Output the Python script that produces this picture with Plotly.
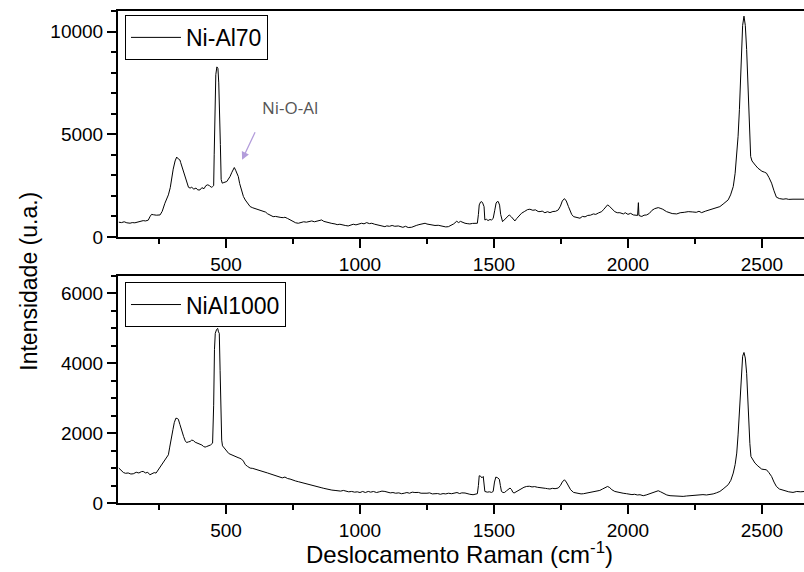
import plotly.graph_objects as go

# Ni-Al70 spectrum (Raman shift cm-1, intensity a.u.)
x_top = [100,110,120,130,142,150,160,170,180,191,200,210,216,222,230,240,254,262,272,280,285,292,297,303,310,316,322,328,331,338,347,355,360,366,372,380,388,395,403,410,418,425,432,438,445,450,454,456,459,462,466,470,473,476,479,482,486,492,498,503,509,515,522,527,531,536,541,546,551,558,565,572,580,590,600,610,620,630,639,648,655,665,676,685,695,705,714,720,730,740,750,760,770,780,790,800,810,820,830,840,850,857,865,875,885,895,907,915,925,935,945,956,965,975,985,995,1006,1015,1025,1035,1044,1055,1065,1075,1085,1093,1100,1110,1120,1130,1143,1150,1160,1170,1180,1193,1200,1210,1220,1230,1243,1250,1260,1270,1280,1292,1300,1310,1320,1330,1340,1350,1361,1368,1375,1385,1392,1400,1410,1420,1430,1438,1442,1445,1450,1454,1458,1463,1466,1472,1478,1485,1491,1497,1503,1508,1512,1516,1521,1525,1532,1540,1550,1557,1565,1572,1578,1585,1595,1603,1615,1625,1634,1645,1655,1665,1672,1680,1690,1700,1709,1720,1730,1740,1748,1755,1763,1770,1778,1785,1790,1797,1805,1812,1821,1830,1840,1850,1860,1871,1880,1890,1902,1910,1917,1924,1932,1940,1951,1960,1970,1983,1990,2000,2010,2020,2030,2036,2039,2041,2045,2052,2060,2070,2080,2090,2100,2113,2120,2130,2144,2155,2165,2182,2195,2210,2225,2240,2255,2265,2275,2290,2306,2320,2330,2343,2355,2365,2374,2383,2393,2400,2406,2411,2416,2420,2424,2428,2433,2438,2443,2447,2450,2454,2458,2463,2468,2475,2485,2493,2500,2510,2517,2526,2536,2545,2554,2565,2579,2590,2600,2616,2630,2645,2660]
y_top = [720,700,740,690,670,700,690,720,740,795,780,820,980,1100,1080,1060,1073,1250,1640,1850,2050,2400,2860,3300,3700,3890,3800,3750,3620,3300,2940,2600,2420,2380,2420,2330,2380,2290,2290,2400,2350,2500,2540,2500,2420,2450,2500,4000,6500,7900,8280,8200,7500,6400,4500,2800,2620,2650,2700,2700,2820,2940,3150,3300,3380,3250,3100,2940,2600,2250,1970,1800,1650,1480,1420,1380,1330,1270,1234,1210,1130,1080,990,1000,960,950,941,960,900,820,760,690,668,700,740,720,760,780,740,770,800,829,760,720,690,660,634,600,620,580,560,537,560,620,590,640,668,640,700,650,668,620,580,560,530,502,540,520,560,520,537,500,470,520,460,473,520,560,600,640,668,630,600,580,560,570,540,520,490,502,560,640,766,700,760,700,668,650,634,660,650,668,1100,1560,1700,1722,1650,1478,829,860,800,850,829,900,1300,1650,1720,1722,1550,1100,746,860,1020,1073,980,860,780,900,1060,1156,1250,1330,1351,1300,1320,1240,1234,1260,1180,1230,1185,1240,1250,1317,1500,1750,1868,1750,1478,1250,1100,990,960,920,912,1000,980,1050,1060,1122,1100,1170,1234,1350,1480,1561,1480,1370,1234,1180,1180,1122,1180,1100,1150,1073,1080,1050,1670,1050,1024,1000,1060,1073,1150,1300,1380,1429,1400,1350,1234,1170,1140,1122,1180,1200,1234,1220,1200,1250,1185,1260,1317,1380,1420,1478,1600,1700,1805,2050,2454,3100,3917,4900,6195,7900,9449,10300,10750,10300,9122,7600,6195,5000,3917,3700,3595,3500,3350,3268,3200,3150,3107,2900,2620,2250,1937,1870,1839,1860,1830,1839,1850,1830,1839]

# NiAl1000 spectrum
x_bot = [100,105,110,117,125,135,145,154,165,175,185,191,200,208,216,225,232,239,248,255,260,268,277,285,290,294,297,302,307,313,318,322,328,335,342,348,353,360,366,372,378,385,392,398,403,410,416,422,428,435,442,450,454,457,460,465,469,472,475,478,481,484,487,495,503,510,515,520,527,535,545,552,558,565,572,580,590,600,610,620,627,635,645,655,664,675,685,695,701,710,720,730,739,750,760,770,782,792,802,812,822,834,844,855,865,875,885,895,907,917,928,938,948,958,969,980,990,1000,1010,1020,1031,1040,1050,1062,1072,1082,1093,1103,1113,1123,1133,1145,1155,1165,1175,1185,1195,1205,1218,1228,1240,1250,1260,1270,1280,1290,1300,1310,1320,1330,1342,1352,1362,1372,1380,1392,1400,1410,1422,1430,1438,1442,1445,1450,1455,1460,1463,1466,1475,1483,1491,1497,1502,1507,1514,1520,1524,1528,1534,1540,1547,1554,1560,1566,1570,1575,1582,1590,1597,1605,1612,1622,1632,1642,1652,1662,1672,1682,1692,1700,1709,1718,1728,1740,1748,1755,1763,1770,1778,1786,1797,1807,1815,1825,1834,1845,1855,1865,1875,1884,1895,1905,1914,1924,1932,1940,1951,1960,1970,1982,1995,2005,2015,2025,2035,2045,2057,2068,2080,2090,2100,2113,2122,2132,2145,2157,2170,2182,2195,2206,2218,2230,2243,2256,2268,2280,2293,2306,2318,2330,2343,2355,2365,2374,2384,2393,2400,2406,2411,2416,2420,2424,2428,2433,2438,2443,2447,2450,2455,2459,2466,2474,2485,2492,2499,2508,2517,2526,2536,2545,2554,2565,2579,2590,2600,2616,2630,2645,2660]
y_bot = [1000,960,900,874,850,860,830,837,880,860,900,903,860,880,808,850,870,857,960,1020,1094,1180,1280,1380,1600,1800,1886,2100,2300,2428,2420,2400,2250,2046,1900,1780,1731,1750,1760,1800,1789,1740,1720,1700,1694,1660,1620,1600,1617,1640,1660,1714,2800,4400,4857,4971,5000,4900,4857,3800,2380,1800,1637,1550,1474,1420,1400,1380,1351,1320,1300,1280,1257,1200,1100,1050,1000,990,970,950,931,920,890,860,837,810,780,760,743,720,743,700,686,650,630,610,589,560,540,530,510,490,474,440,420,400,390,370,360,350,340,360,330,320,331,310,320,300,330,300,331,310,330,300,320,340,331,310,290,300,280,290,266,280,300,280,310,300,303,280,270,280,290,260,266,270,250,270,260,280,266,290,300,270,290,286,260,250,237,250,266,500,780,770,720,760,600,331,310,320,303,330,600,743,720,680,500,331,300,303,350,400,429,380,310,286,320,360,380,420,450,474,480,460,470,450,446,430,420,410,400,420,410,429,500,600,666,600,474,380,303,280,270,260,266,280,300,310,320,331,360,400,440,474,440,380,331,310,300,280,266,250,240,250,230,237,209,230,260,300,330,351,320,270,230,209,200,210,190,189,200,210,220,237,230,240,230,237,260,290,331,400,460,523,650,857,1100,1429,1950,2571,3300,3903,4200,4310,4150,3714,3000,2380,1700,1331,1230,1143,1060,1000,971,960,951,870,760,600,474,400,360,330,320,303,330,320,331]

x_ticks = [500, 1000, 1500, 2000, 2500]
y_ticks_top = [0, 5000, 10000]
y_ticks_bot = [0, 2000, 4000, 6000]
name_top = "Ni-Al70"
name_bot = "NiAl1000"

FONT = "Liberation Sans, Arial, sans-serif"

fig = go.Figure()
fig.add_trace(go.Scatter(x=x_top, y=y_top, mode="lines", name=name_top,
                         line=dict(color="black", width=1), xaxis="x", yaxis="y",
                         legend="legend"))
fig.add_trace(go.Scatter(x=x_bot, y=y_bot, mode="lines", name=name_bot,
                         line=dict(color="black", width=1), xaxis="x2", yaxis="y2",
                         legend="legend2"))

xrange = [97, 2657]
common_x = dict(range=xrange, tickvals=x_ticks, ticks="outside", ticklen=9, tickwidth=1.5,
                tickcolor="black", showline=True, linecolor="black", linewidth=2,
                mirror=True, showgrid=False, zeroline=False,
                tickfont=dict(family=FONT, size=19, color="black"),
                minor=dict(dtick=250, tick0=0, ticks="outside", ticklen=5, tickwidth=1.5,
                           tickcolor="black", showgrid=False))
common_y = dict(ticks="outside", ticklen=9, tickwidth=1.5, tickcolor="black",
                showline=True, linecolor="black", linewidth=2, mirror=False,
                showgrid=False, zeroline=False, tickformat="d",
                tickfont=dict(family=FONT, size=19, color="black"))

legend_style = dict(xanchor="left", yanchor="top", bordercolor="black", borderwidth=1,
                    bgcolor="white", font=dict(family=FONT, size=23, color="black"),
                    itemwidth=50, tracegroupgap=0)

fig.update_layout(
    width=804, height=572,
    margin=dict(l=118, r=0, t=11, b=69),
    plot_bgcolor="white", paper_bgcolor="white",
    xaxis=dict(domain=[0, 1], anchor="y", **common_x),
    yaxis=dict(domain=[0.5407, 1], anchor="x", range=[0, 11000],
               tickvals=y_ticks_top,
               minor=dict(dtick=1000, tick0=0, ticks="outside", ticklen=5, tickwidth=1.5,
                          tickcolor="black", showgrid=False),
               **common_y),
    xaxis2=dict(domain=[0, 1], anchor="y2", **common_x),
    yaxis2=dict(domain=[0, 0.4614], anchor="x2", range=[0, 6500],
                tickvals=y_ticks_bot,
                minor=dict(dtick=500, tick0=0, ticks="outside", ticklen=5, tickwidth=1.5,
                           tickcolor="black", showgrid=False),
                **common_y),
    legend=dict(x=0.0102, y=0.992, **legend_style),
    legend2=dict(x=0.0102, y=0.449, **legend_style),
    showlegend=True,
)

# Annotation arrow and label on top panel
fig.add_annotation(x=560, y=3756, xref="x", yref="y", text=" ", showarrow=True,
                   ax=16, ay=-34, axref="pixel", ayref="pixel",
                   arrowcolor="#b39ddb", arrowwidth=1.3, arrowhead=2, arrowsize=1.2)
fig.add_annotation(x=739, y=6290, xref="x", yref="y", text="Ni-O-Al", showarrow=False,
                   font=dict(family="Open Sans", size=17, color="#555555"))

# Axis titles
fig.add_annotation(x=0.4985, y=-0.1016, xref="paper", yref="paper",
                   text="Deslocamento Raman (cm<sup>-1</sup>)", showarrow=False,
                   xanchor="center", yanchor="middle",
                   font=dict(family=FONT, size=24, color="black"))
fig.add_annotation(x=-0.131, y=0.45, xref="paper", yref="paper",
                   text="Intensidade (u.a.)", showarrow=False, textangle=-90,
                   xanchor="center", yanchor="middle",
                   font=dict(family=FONT, size=23, color="black"))

fig.write_html("out.html")
